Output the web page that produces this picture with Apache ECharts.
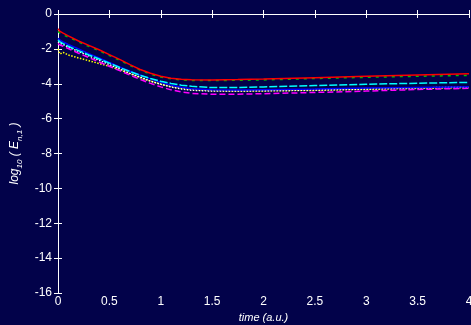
<!DOCTYPE html>
<html>
<head>
<meta charset="utf-8">
<script src="https://cdn.jsdelivr.net/npm/echarts@6/dist/echarts.min.js"></script>
<style>
  html, body { margin: 0; padding: 0; background: #02024a; }
  #chart { width: 471px; height: 325px; }
</style>
</head>
<body>
<div id="chart"></div>
<script>
// time axis (a.u.)
var time = [0, 0.02, 0.05, 0.1, 0.2, 0.3, 0.4, 0.5, 0.6, 0.7, 0.8, 0.9, 1.0, 1.1, 1.2, 1.3, 1.5, 1.75, 2.0, 2.5, 3.0, 3.5, 4.0];

// log10(E_n,1) for each curve
var redVals     = [-0.85, -1.0, -1.1, -1.25, -1.55, -1.8, -2.05, -2.33, -2.6, -2.9, -3.18, -3.4, -3.57, -3.68, -3.74, -3.77, -3.78, -3.76, -3.73, -3.65, -3.57, -3.5, -3.43];
var greenVals   = [-1.0, -1.1, -1.2, -1.32, -1.6, -1.86, -2.1, -2.38, -2.65, -2.95, -3.22, -3.45, -3.62, -3.72, -3.78, -3.81, -3.82, -3.8, -3.78, -3.7, -3.63, -3.57, -3.52];
var cyanVals    = [-1.5, -1.6, -1.7, -1.85, -2.1, -2.35, -2.58, -2.82, -3.07, -3.3, -3.52, -3.7, -3.86, -3.98, -4.08, -4.15, -4.22, -4.22, -4.18, -4.1, -4.03, -3.97, -3.92];
var blueVals    = [-1.4, -1.5, -1.6, -1.75, -2.0, -2.27, -2.52, -2.78, -3.03, -3.28, -3.5, -3.72, -3.92, -4.08, -4.2, -4.28, -4.35, -4.36, -4.34, -4.3, -4.25, -4.21, -4.17];
var whiteVals   = [-1.6, -1.68, -1.75, -1.9, -2.15, -2.4, -2.65, -2.9, -3.15, -3.4, -3.62, -3.85, -4.03, -4.18, -4.3, -4.37, -4.42, -4.42, -4.4, -4.36, -4.3, -4.24, -4.18];
var magentaVals = [-1.7, -1.78, -1.85, -1.98, -2.25, -2.5, -2.75, -3.0, -3.25, -3.5, -3.75, -3.98, -4.18, -4.35, -4.47, -4.55, -4.6, -4.6, -4.57, -4.5, -4.42, -4.33, -4.26];
var yellowVals  = [-2.0, -2.3, -2.2, -2.35, -2.52, -2.68, -2.84, -3.0, -3.2, -3.42, -3.65, -3.85, -4.02, -4.16, -4.26, -4.33, -4.4, -4.42, -4.41, -4.38, -4.32, -4.27, -4.22];

var xTicks = [0, 0.5, 1, 1.5, 2, 2.5, 3, 3.5, 4];
var yTicks = [0, -2, -4, -6, -8, -10, -12, -14, -16];

function pairs(vals) {
    return time.map(function (t, i) { return [t, vals[i]]; });
}

function line(vals, color, type) {
    return {
        type: 'line',
        data: pairs(vals),
        symbol: 'none',
        smooth: false,
        lineStyle: { color: color, width: 1.5, type: type },
        animation: false
    };
}

var chart = echarts.init(document.getElementById('chart'));

var axisLine = { show: true, lineStyle: { color: '#ffffff', width: 1 } };
var tick = { show: true, inside: true, length: 4, lineStyle: { color: '#ffffff' } };
var labelFont = { color: '#ffffff', fontSize: 12, fontFamily: 'Liberation Sans, Arial, sans-serif' };

var option = {
    backgroundColor: '#02024a',
    grid: { left: 58, right: 2, top: 14, bottom: 32, outerBoundsMode: 'none', containLabel: false },
    xAxis: [{
        type: 'value', min: 0, max: 4, interval: 0.5,
        axisLine: axisLine, axisTick: tick, splitLine: { show: false },
        axisLabel: Object.assign({ margin: 3, showMaxLabel: true }, labelFont),
        name: 'time (a.u.)', nameLocation: 'middle', nameGap: 16,
        nameTextStyle: { color: '#ffffff', fontSize: 11, fontStyle: 'italic', fontFamily: 'Liberation Sans, Arial, sans-serif' }
    }, {
        type: 'value', position: 'top', min: 0, max: 4, interval: 0.5,
        axisLine: axisLine, axisTick: tick, axisLabel: { show: false }, splitLine: { show: false }
    }],
    yAxis: [{
        type: 'value', min: -16, max: 0, interval: 2,
        axisLine: axisLine, axisTick: tick, splitLine: { show: false },
        axisLabel: Object.assign({ margin: 6 }, labelFont),
        name: '{t|log}{s|10}{t| ( E}{s|n,1}{t| )}', nameLocation: 'middle', nameGap: 29,
        nameTextStyle: {
            rich: {
                t: { color: '#ffffff', fontSize: 12, fontStyle: 'italic', fontFamily: 'Liberation Sans, Arial, sans-serif', lineHeight: 14, verticalAlign: 'top' },
                s: { color: '#ffffff', fontSize: 8, fontStyle: 'italic', fontFamily: 'Liberation Sans, Arial, sans-serif', lineHeight: 14, padding: [7, 0, 0, 0], verticalAlign: 'top' }
            }
        }
    }, {
        type: 'value', position: 'right', min: -16, max: 0, interval: 2,
        axisLine: axisLine, axisTick: tick, axisLabel: { show: false }, splitLine: { show: false }
    }],
    series: [
        line(yellowVals, '#ffff00', 'dotted'),
        line(whiteVals, '#ffffff', 'dotted'),
        line(magentaVals, '#ff00ff', [6, 3]),
        line(blueVals, '#0000ff', 'solid'),
        line(cyanVals, '#00ffff', [8, 2]),
        line(greenVals, '#00c000', [3, 5]),
        line(redVals, '#ff0000', 'solid')
    ]
};

chart.setOption(option, true);
</script>
</body>
</html>
